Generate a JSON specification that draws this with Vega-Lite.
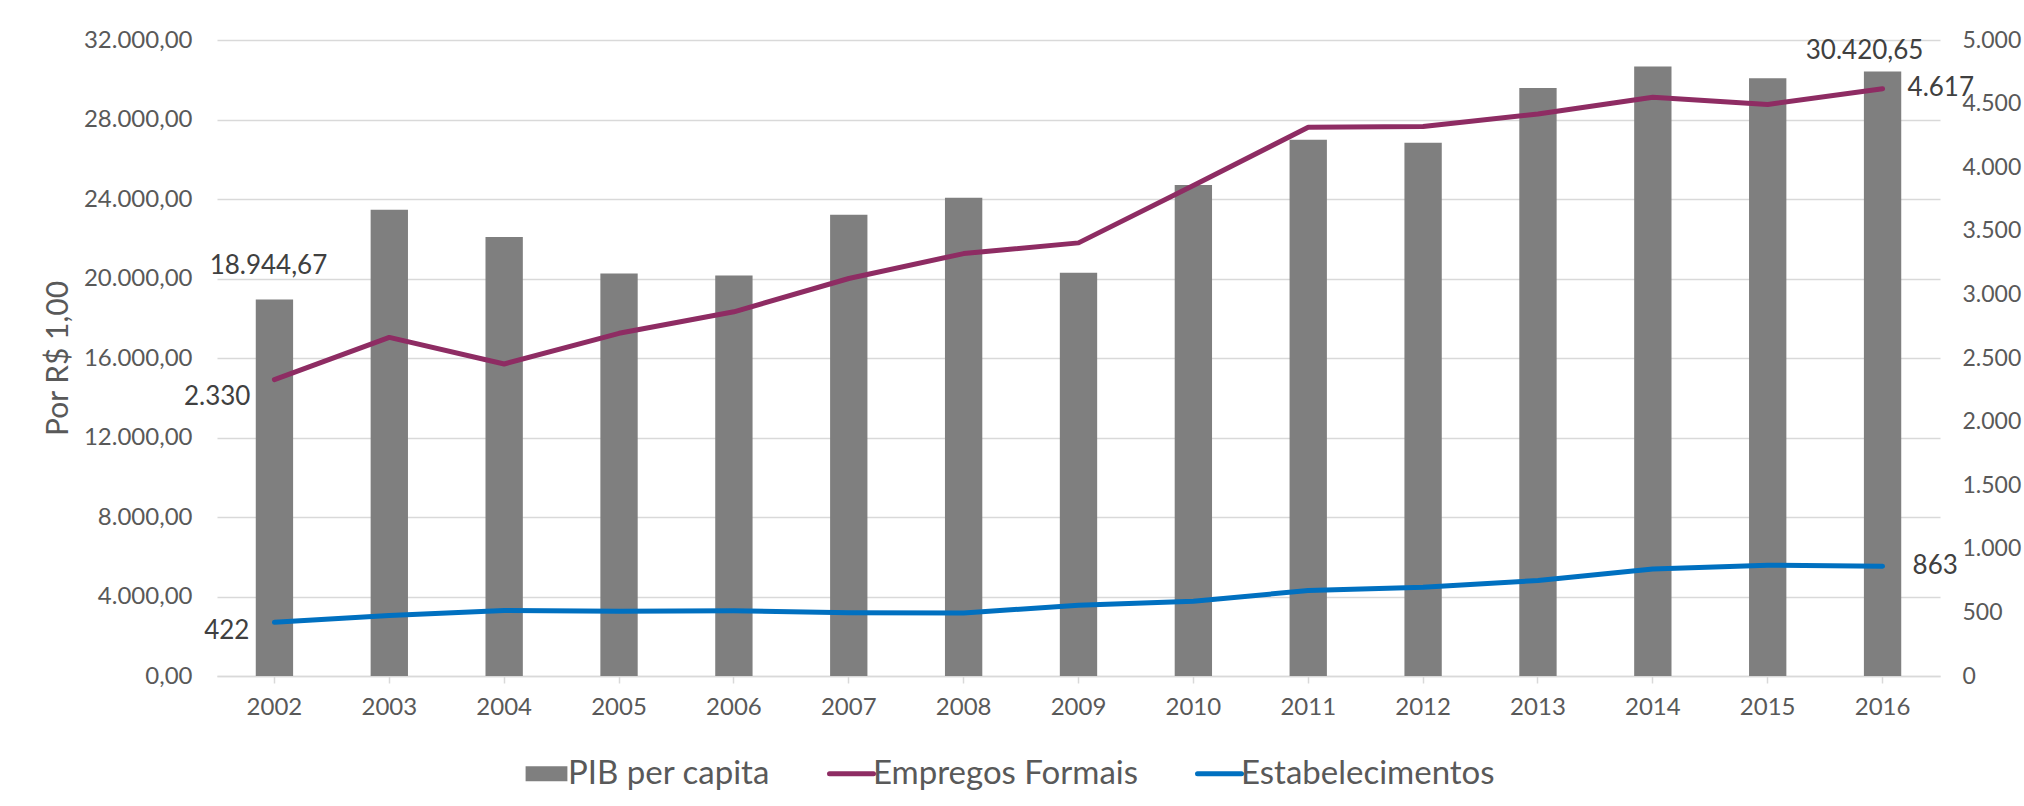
{
  "$schema": "https://vega.github.io/schema/vega-lite/v6.json",
  "autosize": {"type": "none"},
  "width": 1723,
  "height": 636,
  "padding": {"left": 217, "top": 40, "right": 84, "bottom": 130},
  "background": "white",
  "config": {
    "font": "Lato",
    "view": {"stroke": null},
    "locale": {"number": {"decimal": ",", "thousands": ".", "grouping": [3], "currency": ["R$", ""]}}
  },
  "data": {"values": [
    {"ano": 2002, "serie": "PIB per capita", "valor": 18944.67},
    {"ano": 2003, "serie": "PIB per capita", "valor": 23464},
    {"ano": 2004, "serie": "PIB per capita", "valor": 22092},
    {"ano": 2005, "serie": "PIB per capita", "valor": 20251},
    {"ano": 2006, "serie": "PIB per capita", "valor": 20150},
    {"ano": 2007, "serie": "PIB per capita", "valor": 23213},
    {"ano": 2008, "serie": "PIB per capita", "valor": 24067},
    {"ano": 2009, "serie": "PIB per capita", "valor": 20285},
    {"ano": 2010, "serie": "PIB per capita", "valor": 24703},
    {"ano": 2011, "serie": "PIB per capita", "valor": 26979},
    {"ano": 2012, "serie": "PIB per capita", "valor": 26828},
    {"ano": 2013, "serie": "PIB per capita", "valor": 29590},
    {"ano": 2014, "serie": "PIB per capita", "valor": 30661},
    {"ano": 2015, "serie": "PIB per capita", "valor": 30075},
    {"ano": 2016, "serie": "PIB per capita", "valor": 30420.65},
    {"ano": 2002, "serie": "Empregos Formais", "valor": 2330},
    {"ano": 2003, "serie": "Empregos Formais", "valor": 2662},
    {"ano": 2004, "serie": "Empregos Formais", "valor": 2453},
    {"ano": 2005, "serie": "Empregos Formais", "valor": 2694},
    {"ano": 2006, "serie": "Empregos Formais", "valor": 2863},
    {"ano": 2007, "serie": "Empregos Formais", "valor": 3125},
    {"ano": 2008, "serie": "Empregos Formais", "valor": 3321},
    {"ano": 2009, "serie": "Empregos Formais", "valor": 3405},
    {"ano": 2010, "serie": "Empregos Formais", "valor": 3857},
    {"ano": 2011, "serie": "Empregos Formais", "valor": 4314},
    {"ano": 2012, "serie": "Empregos Formais", "valor": 4320},
    {"ano": 2013, "serie": "Empregos Formais", "valor": 4419},
    {"ano": 2014, "serie": "Empregos Formais", "valor": 4550},
    {"ano": 2015, "serie": "Empregos Formais", "valor": 4493},
    {"ano": 2016, "serie": "Empregos Formais", "valor": 4617},
    {"ano": 2002, "serie": "Estabelecimentos", "valor": 422},
    {"ano": 2003, "serie": "Estabelecimentos", "valor": 476},
    {"ano": 2004, "serie": "Estabelecimentos", "valor": 515},
    {"ano": 2005, "serie": "Estabelecimentos", "valor": 510},
    {"ano": 2006, "serie": "Estabelecimentos", "valor": 512},
    {"ano": 2007, "serie": "Estabelecimentos", "valor": 497},
    {"ano": 2008, "serie": "Estabelecimentos", "valor": 495},
    {"ano": 2009, "serie": "Estabelecimentos", "valor": 557},
    {"ano": 2010, "serie": "Estabelecimentos", "valor": 588},
    {"ano": 2011, "serie": "Estabelecimentos", "valor": 672},
    {"ano": 2012, "serie": "Estabelecimentos", "valor": 698},
    {"ano": 2013, "serie": "Estabelecimentos", "valor": 751},
    {"ano": 2014, "serie": "Estabelecimentos", "valor": 842},
    {"ano": 2015, "serie": "Estabelecimentos", "valor": 871},
    {"ano": 2016, "serie": "Estabelecimentos", "valor": 863}
  ]},
  "encoding": {
    "x": {
      "field": "ano", "type": "ordinal",
      "scale": {"paddingInner": 0.675, "paddingOuter": 0.3375},
      "axis": {
        "title": null, "labelAngle": 0, "labelFontSize": 24, "labelColor": "#595959",
        "domainColor": "#d9d9d9", "domainWidth": 1.5, "tickColor": "#d9d9d9", "tickWidth": 1.5,
        "tickSize": 7, "labelPadding": 12, "bandPosition": 0.5, "grid": false
      }
    }
  },
  "layer": [
    {
      "transform": [{"filter": "datum.serie === 'PIB per capita'"}],
      "encoding": {
        "y": {
          "field": "valor", "type": "quantitative",
          "scale": {"domain": [0, 32000], "nice": false},
          "axis": {
            "orient": "left", "title": "Por R$ 1,00", "titleFontSize": 30, "titleFontWeight": "normal",
            "titleColor": "#595959", "titlePadding": 10, "format": ",.2f", "values": [0,4000,8000,12000,16000,20000,24000,28000,32000],
            "labelFontSize": 24, "labelColor": "#595959", "labelPadding": 25, "ticks": false, "tickSize": 0,
            "domain": false, "grid": true, "gridColor": "#d9d9d9", "gridWidth": 1.5
          }
        }
      },
      "layer": [
        {
          "mark": {"type": "bar"},
          "encoding": {
            "color": {
              "field": "serie", "type": "nominal",
              "scale": {"domain": ["PIB per capita", "Empregos Formais", "Estabelecimentos"], "range": ["#7f7f7f", "#8e2c63", "#0070c0"]},
              "legend": {
                "title": null, "orient": "none", "direction": "horizontal", "legendX": 313, "legendY": 717,
                "labelFontSize": 33, "labelColor": "#595959", "labelLimit": 0, "symbolSize": 1936, "labelOffset": 5,
                "columnPadding": 48, "padding": 0,
                "encode": {"symbols": {"update": {
                  "shape": {"signal": "datum.value === 'PIB per capita' ? 'M-0.95,-0.34H0.95V0.34H-0.95Z' : 'stroke'"},
                  "fill": {"signal": "datum.value === 'PIB per capita' ? '#7f7f7f' : 'transparent'"},
                  "stroke": {"signal": "datum.value === 'PIB per capita' ? 'transparent' : (datum.value === 'Empregos Formais' ? '#8e2c63' : '#0070c0')"},
                  "strokeWidth": {"signal": "datum.value === 'PIB per capita' ? 0 : 5"},
                  "strokeCap": {"value": "round"},
                  "opacity": {"value": 1}
                }}}
              }
            }
          }
        },
        {
          "transform": [{"filter": "datum.ano === 2002"}],
          "mark": {"type": "text", "fontSize": 26, "color": "#404040", "align": "center", "baseline": "middle", "dx": -6, "dy": -33},
          "encoding": {"text": {"field": "valor", "type": "quantitative", "format": ",.2f"}}
        },
        {
          "transform": [{"filter": "datum.ano === 2016"}],
          "mark": {"type": "text", "fontSize": 26, "color": "#404040", "align": "center", "baseline": "middle", "dx": -18, "dy": -20},
          "encoding": {"text": {"field": "valor", "type": "quantitative", "format": ",.2f"}}
        }
      ]
    },
    {
      "transform": [{"filter": "datum.serie !== 'PIB per capita'"}],
      "encoding": {
        "y": {
          "field": "valor", "type": "quantitative",
          "scale": {"domain": [0, 5000], "nice": false},
          "axis": {
            "orient": "right", "title": null, "format": ",d", "values": [0,500,1000,1500,2000,2500,3000,3500,4000,4500,5000],
            "labelFontSize": 23, "labelColor": "#595959", "labelPadding": 22, "ticks": false, "tickSize": 0,
            "domain": false, "grid": false
          }
        }
      },
      "layer": [
        {
          "mark": {"type": "line", "strokeWidth": 5, "strokeJoin": "round", "strokeCap": "round"},
          "encoding": {
            "color": {"field": "serie", "type": "nominal"}
          }
        },
        {
          "transform": [{"filter": "datum.ano === 2002 && datum.serie === 'Empregos Formais'"}],
          "mark": {"type": "text", "fontSize": 26, "color": "#404040", "align": "right", "baseline": "middle", "dx": -24, "dy": 17},
          "encoding": {"text": {"field": "valor", "type": "quantitative", "format": ",d"}}
        },
        {
          "transform": [{"filter": "datum.ano === 2002 && datum.serie === 'Estabelecimentos'"}],
          "mark": {"type": "text", "fontSize": 26, "color": "#404040", "align": "right", "baseline": "middle", "dx": -25, "dy": 9},
          "encoding": {"text": {"field": "valor", "type": "quantitative", "format": ",d"}}
        },
        {
          "transform": [{"filter": "datum.ano === 2016 && datum.serie === 'Empregos Formais'"}],
          "mark": {"type": "text", "fontSize": 26, "color": "#404040", "align": "left", "baseline": "middle", "dx": 25, "dy": -1},
          "encoding": {"text": {"field": "valor", "type": "quantitative", "format": ",d"}}
        },
        {
          "transform": [{"filter": "datum.ano === 2016 && datum.serie === 'Estabelecimentos'"}],
          "mark": {"type": "text", "fontSize": 26, "color": "#404040", "align": "left", "baseline": "middle", "dx": 30, "dy": 0},
          "encoding": {"text": {"field": "valor", "type": "quantitative", "format": ",d"}}
        }
      ]
    }
  ],
  "resolve": {"scale": {"y": "independent"}}
}
